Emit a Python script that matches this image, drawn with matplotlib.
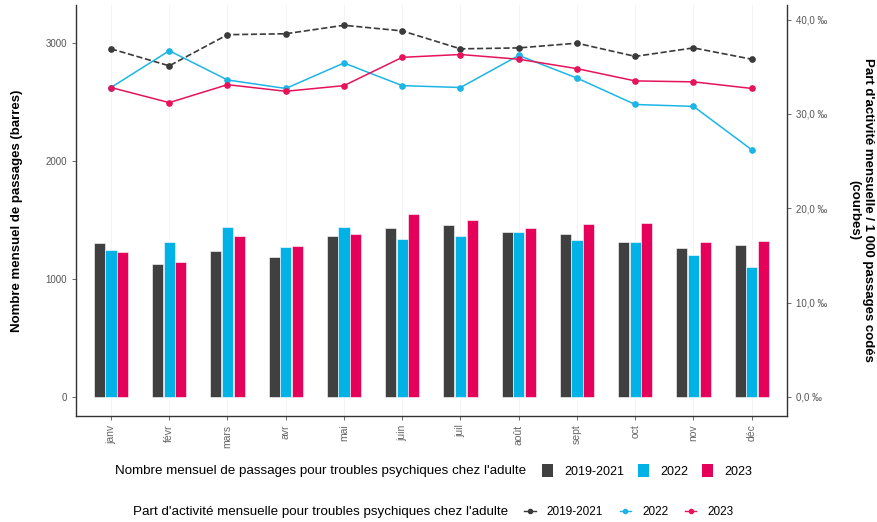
import matplotlib
matplotlib.use("Agg")
import matplotlib.pyplot as plt
import numpy as np
from matplotlib.lines import Line2D
from matplotlib.patches import Patch

plt.rcParams["font.family"] = ["Liberation Sans", "DejaVu Sans"]

months = ["janv", "févr", "mars", "avr", "mai", "juin", "juil", "août",
          "sept", "oct", "nov", "déc"]
periods = ["2019-2021", "2022", "2023"]

# monthly count of visits (bars)
passages_ref = [1305, 1127, 1237, 1189, 1364, 1430, 1455, 1396, 1379, 1314, 1263, 1291]
passages_2022 = [1248, 1314, 1443, 1274, 1441, 1339, 1362, 1396, 1328, 1314, 1206, 1102]
passages_2023 = [1231, 1144, 1367, 1282, 1384, 1553, 1497, 1430, 1469, 1475, 1314, 1322]

# share of activity per 1000 coded visits (lines)
part_ref = [36.9, 35.1, 38.4, 38.5, 39.4, 38.8, 36.9, 37.0, 37.5, 36.1, 37.0, 35.8]
part_2022 = [32.8, 36.7, 33.6, 32.7, 35.4, 33.0, 32.8, 36.2, 33.8, 31.0, 30.8, 26.2]
part_2023 = [32.8, 31.2, 33.1, 32.4, 33.0, 36.0, 36.3, 35.8, 34.8, 33.5, 33.4, 32.7]

bar_colors = ["#404040", "#00B2E6", "#E5005A"]
line_colors = ["#3a3a3a", "#1CB5E6", "#E5135A"]
SCALE = 80.0  # 1 permille on right axis = 80 passages on left axis

fig = plt.figure(figsize=(8.78, 5.22), dpi=100)
ax = fig.add_axes([0.0866, 0.204, 0.8094, 0.786])
x = np.arange(len(months))
w = 0.19
for off, vals, c in zip([-0.2, 0.0, 0.2], [passages_ref, passages_2022, passages_2023], bar_colors):
    ax.bar(x + off, vals, width=w, color=c, edgecolor="white", linewidth=0.4, zorder=2)

ax.set_xlim(-0.6, 11.6)
ylo, yhi = -158, 3322
ax.set_ylim(ylo, yhi)
ax.set_yticks([0, 1000, 2000, 3000])
ax.set_xticks(x)
ax.set_xticklabels(months, rotation=90)
ax.tick_params(axis="both", colors="#555555", labelsize=7, length=3, width=0.6)
ax.tick_params(axis="x", labelcolor="#666666", labelsize=7.5)
ax.grid(axis="x", color="#f2f2f2", linewidth=0.6, zorder=0)
for s in ["top", "right"]:
    ax.spines[s].set_visible(False)
for s in ["left", "bottom"]:
    ax.spines[s].set_color("#333333")
    ax.spines[s].set_linewidth(1.0)
ax.set_ylabel("Nombre mensuel de passages (barres)", fontsize=9.5, fontweight="bold", labelpad=16)

ax2 = ax.twinx()
ax2.set_ylim(ylo / SCALE, yhi / SCALE)
ax2.plot(x, part_ref, "--", color=line_colors[0], lw=1.2, marker="o", ms=3.8, zorder=3)
ax2.plot(x, part_2022, "-", color=line_colors[1], lw=1.1, marker="o", ms=3.8, zorder=3)
ax2.plot(x, part_2023, "-", color=line_colors[2], lw=1.1, marker="o", ms=3.8, zorder=3)
ax2.set_yticks([0, 10, 20, 30, 40])
ax2.set_yticklabels([f"{v:.1f}".replace(".", ",") + " ‰" for v in [0, 10, 20, 30, 40]])
ax2.tick_params(axis="y", colors="#555555", labelsize=7, length=3, width=0.6)
for s in ["top", "left", "bottom"]:
    ax2.spines[s].set_visible(False)
ax2.spines["right"].set_color("#333333")
ax2.spines["right"].set_linewidth(1.0)
ax2.set_ylabel("Part d'activité mensuelle / 1 000 passages codés\n(courbes)",
               fontsize=9.5, fontweight="bold", rotation=270, labelpad=34)

# legends
fig.text(0.131, 0.098, "Nombre mensuel de passages pour troubles psychiques chez l'adulte",
         fontsize=9.6, va="center", ha="left")
bar_handles = [Patch(facecolor=c) for c in bar_colors]
fig.legend(bar_handles, periods, ncol=3, loc="center left", bbox_to_anchor=(0.604, 0.098),
           frameon=False, fontsize=9, handlelength=0.9, handleheight=1.3,
           handletextpad=0.9, columnspacing=1.1)

fig.text(0.151, 0.019, "Part d'activité mensuelle pour troubles psychiques chez l'adulte",
         fontsize=9.6, va="center", ha="left")
line_handles = [Line2D([], [], color=c, marker="o", ms=3, lw=1.0) for c in line_colors]
fig.legend(line_handles, periods, ncol=3, loc="center left", bbox_to_anchor=(0.585, 0.019),
           frameon=False, fontsize=8.5, handlelength=1.0,
           handletextpad=0.9, columnspacing=1.4)

fig.savefig("out.png", dpi=100)
